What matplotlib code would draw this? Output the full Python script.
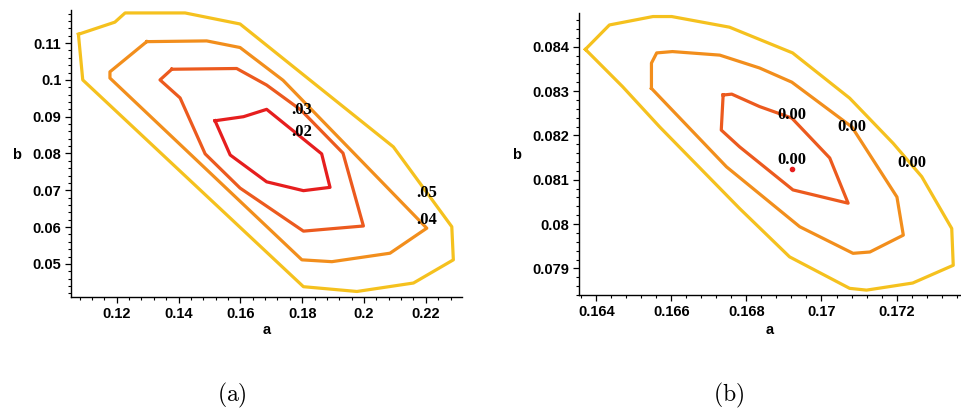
#!/usr/bin/env python3
# -*- coding: utf-8 -*-
"""Two contour panels of the (a, b) objective: wide view (a) and zoom (b)."""
import matplotlib
matplotlib.use("Agg")
import matplotlib.pyplot as plt
from matplotlib.ticker import MultipleLocator

plt.rcParams["mathtext.fontset"] = "cm"

# ---------------- panel (a): contour vertices (a, b) ----------------
A05 = [0.1076, 0.1090, 0.1804, 0.1977, 0.2160, 0.2289, 0.2284, 0.2095,
       0.1826, 0.1599, 0.1421, 0.1227, 0.1194, 0.1076]
B05 = [0.1124, 0.1000, 0.0438, 0.0425, 0.0448, 0.0511, 0.0601, 0.0818,
       0.0999, 0.1152, 0.1182, 0.1182, 0.1157, 0.1124]

A04 = [0.1297, 0.1491, 0.1599, 0.1738, 0.2203, 0.2084, 0.1896, 0.1799,
       0.1178, 0.1178, 0.1297]
B04 = [0.1104, 0.1106, 0.1088, 0.0999, 0.0597, 0.0529, 0.0506, 0.0511,
       0.1005, 0.1022, 0.1104]

A03 = [0.1378, 0.1588, 0.1685, 0.1796, 0.1932, 0.1998, 0.1804, 0.1599,
       0.1486, 0.1405, 0.1340, 0.1378]
B03 = [0.1029, 0.1031, 0.0986, 0.0918, 0.0801, 0.0603, 0.0589, 0.0706,
       0.0799, 0.0951, 0.1000, 0.1029]

A02 = [0.1518, 0.1610, 0.1685, 0.1863, 0.1890, 0.1804, 0.1685, 0.1567, 0.1518]
B02 = [0.0889, 0.0900, 0.0920, 0.0799, 0.0708, 0.0699, 0.0723, 0.0796, 0.0889]

LEFT_LABELS = [".03", ".02", ".05", ".04"]
LEFT_LABEL_A = [0.1797, 0.1797, 0.2203, 0.2203]
LEFT_LABEL_B = [0.0918, 0.0859, 0.0692, 0.0619]

LEFT_XTICKS = [0.12, 0.14, 0.16, 0.18, 0.2, 0.22]
LEFT_XTICKLABELS = ["0.12", "0.14", "0.16", "0.18", "0.2", "0.22"]
LEFT_YTICKS = [0.05, 0.06, 0.07, 0.08, 0.09, 0.1, 0.11]
LEFT_YTICKLABELS = ["0.05", "0.06", "0.07", "0.08", "0.09", "0.1", "0.11"]

# ---------------- panel (b): contour vertices (a, b) ----------------
A_OUT = [0.16371, 0.16435, 0.16551, 0.16601, 0.16755, 0.16923, 0.17075,
         0.17191, 0.17267, 0.17347, 0.17351, 0.17243, 0.17120, 0.17075,
         0.16915, 0.16782, 0.16569, 0.16470, 0.16371]
B_OUT = [0.08394, 0.08449, 0.08468, 0.08468, 0.08444, 0.08386, 0.08284,
         0.08182, 0.08107, 0.07990, 0.07907, 0.07867, 0.07851, 0.07855,
         0.07926, 0.08035, 0.08219, 0.08310, 0.08394]

A_MID = [0.16547, 0.16547, 0.16561, 0.16603, 0.16729, 0.16835, 0.16921,
         0.17081, 0.17201, 0.17218, 0.17129, 0.17084, 0.16942, 0.16747,
         0.16547]
B_MID = [0.08306, 0.08363, 0.08386, 0.08389, 0.08381, 0.08352, 0.08320,
         0.08219, 0.08061, 0.07975, 0.07937, 0.07934, 0.07994, 0.08129,
         0.08306]

A_IN = [0.16738, 0.16761, 0.16835, 0.16921, 0.17022, 0.17071, 0.16924,
        0.16782, 0.16733, 0.16738]
B_IN = [0.08291, 0.08293, 0.08265, 0.08239, 0.08149, 0.08047, 0.08077,
        0.08174, 0.08212, 0.08291]

A_MIN, B_MIN = [0.16921], [0.08124]

RIGHT_LABELS = ["0.00", "0.00", "0.00", "0.00"]
RIGHT_LABEL_A = [0.16920, 0.17080, 0.16920, 0.17240]
RIGHT_LABEL_B = [0.08246, 0.08219, 0.08144, 0.08137]

RIGHT_XTICKS = [0.164, 0.166, 0.168, 0.17, 0.172]
RIGHT_XTICKLABELS = ["0.164", "0.166", "0.168", "0.17", "0.172"]
RIGHT_YTICKS = [0.079, 0.08, 0.081, 0.082, 0.083, 0.084]
RIGHT_YTICKLABELS = ["0.079", "0.08", "0.081", "0.082", "0.083", "0.084"]

YELLOW = "#F5C11E"
ORANGE = "#F28E1C"
REDORANGE = "#EC5A1E"
RED = "#E61E1E"

TICK_FONT = dict(family="Liberation Sans", weight="bold", size=10.5)
LABEL_FONT = dict(family="Liberation Serif", weight="bold", size=12)


def style_axes(ax, xticks, xlabels, yticks, ylabels, xminor, yminor,
               xlim, ylim, xlab_y, ylab_x, ylab_y):
    ax.set_xlim(*xlim)
    ax.set_ylim(*ylim)
    for s in ["top", "right"]:
        ax.spines[s].set_visible(False)
    for s in ["left", "bottom"]:
        ax.spines[s].set_linewidth(1.0)
    ax.set_xticks(xticks, xlabels)
    ax.set_yticks(yticks, ylabels)
    ax.xaxis.set_minor_locator(MultipleLocator(xminor))
    ax.yaxis.set_minor_locator(MultipleLocator(yminor))
    ax.tick_params(which="major", direction="out", length=4, width=0.9, pad=3)
    ax.tick_params(which="minor", direction="out", length=2, width=0.8)
    for t in ax.get_xticklabels() + ax.get_yticklabels():
        t.set_fontfamily(TICK_FONT["family"])
        t.set_fontweight("bold")
        t.set_fontsize(TICK_FONT["size"])
    ax.set_xlabel("a", **TICK_FONT)
    ax.set_ylabel("b", rotation=0, **TICK_FONT)
    ax.xaxis.label.set_va("baseline")
    ax.yaxis.label.set_va("baseline")
    ax.yaxis.label.set_ha("center")
    ax.xaxis.set_label_coords(0.5, xlab_y)
    ax.yaxis.set_label_coords(ylab_x, ylab_y)


def main():
    W, H = 961, 416
    fig = plt.figure(figsize=(W / 100, H / 100), dpi=100)

    # panel (a): x 71..462 px, y 10..297 px
    ax1 = fig.add_axes([71 / W, 1 - 297 / H, 391 / W, 287 / H])
    lw = 2.3
    ax1.plot(A05, B05, color=YELLOW, lw=lw)
    ax1.plot(A04, B04, color=ORANGE, lw=lw)
    ax1.plot(A03, B03, color=REDORANGE, lw=lw)
    ax1.plot(A02, B02, color=RED, lw=lw)
    for t, x, y in zip(LEFT_LABELS, LEFT_LABEL_A, LEFT_LABEL_B):
        ax1.text(x, y, t, ha="center", va="center", color="black", **LABEL_FONT)
    style_axes(ax1, LEFT_XTICKS, LEFT_XTICKLABELS, LEFT_YTICKS, LEFT_YTICKLABELS,
               0.004, 0.002, (0.1052, 0.2317), (0.0410, 0.1190),
               -0.129, -0.138, 0.481)

    # panel (b): x 579..960 px, y 13..295 px
    ax2 = fig.add_axes([579 / W, 1 - 295 / H, 381 / W, 282 / H])
    ax2.plot(A_OUT, B_OUT, color=YELLOW, lw=lw)
    ax2.plot(A_MID, B_MID, color=ORANGE, lw=lw)
    ax2.plot(A_IN, B_IN, color=REDORANGE, lw=lw)
    ax2.plot(A_MIN, B_MIN, "o", color=RED, ms=3)
    for t, x, y in zip(RIGHT_LABELS, RIGHT_LABEL_A, RIGHT_LABEL_B):
        ax2.text(x, y, t, ha="center", va="center", color="black", **LABEL_FONT)
    style_axes(ax2, RIGHT_XTICKS, RIGHT_XTICKLABELS, RIGHT_YTICKS,
               RIGHT_YTICKLABELS, 0.0004, 0.0002, (0.16354, 0.17369),
               (0.0784, 0.08476), -0.138, -0.163, 0.482)

    fig.text(232 / W, 1 - 395 / H, r"$\mathrm{(a)}$", ha="center", va="center",
             fontsize=17)
    fig.text(729 / W, 1 - 395 / H, r"$\mathrm{(b)}$", ha="center", va="center",
             fontsize=17)

    fig.savefig("out.png", dpi=100)


if __name__ == "__main__":
    main()
